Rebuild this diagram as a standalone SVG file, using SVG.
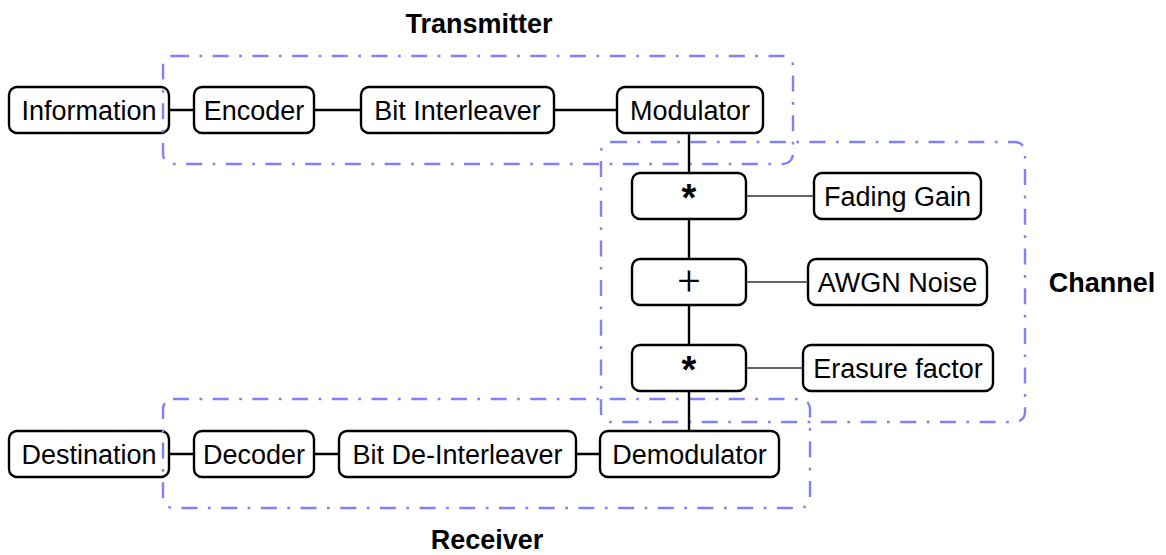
<svg xmlns="http://www.w3.org/2000/svg" width="1166" height="555" viewBox="0 0 1166 555">
<style>
.node rect{fill:#fff;stroke:#000;stroke-width:2.4}
.node text{font-family:"Liberation Sans",Arial,sans-serif;font-size:27px;text-anchor:middle;fill:#000}
.group{fill:none;stroke:#8080ff;stroke-width:2.4;stroke-dasharray:16 10.5 2.7 10.5}
.lbl{font-family:"Liberation Sans",Arial,sans-serif;font-size:27px;font-weight:bold;text-anchor:middle;fill:#000}
.main{stroke:#000;stroke-width:2.4;fill:none}
.side{stroke:#333;stroke-width:1.3;fill:none}
.node text.star{font-family:"Liberation Sans",Arial,sans-serif;font-size:38px;font-weight:bold}
.node text.plus{font-family:Roboto,"Liberation Sans",sans-serif;font-size:40px;font-weight:300}
</style>
<rect width="1166" height="555" fill="#fff"/>
<g id="information" class="node"><rect x="9" y="87" width="160" height="46" rx="8"/><text x="89" y="120">Information</text></g>
<g id="encoder" class="node"><rect x="194" y="87" width="120" height="46" rx="8"/><text x="254" y="120">Encoder</text></g>
<g id="bit-interleaver" class="node"><rect x="361" y="87" width="193" height="46" rx="8"/><text x="457.5" y="120">Bit Interleaver</text></g>
<g id="modulator" class="node"><rect x="617" y="87" width="146" height="46" rx="8"/><text x="690" y="120">Modulator</text></g>
<g id="mult1" class="node"><rect x="632" y="173" width="114" height="46" rx="8"/><text class="star" x="689" y="210.5">*</text></g>
<g id="fading-gain" class="node"><rect x="814" y="173" width="167" height="46" rx="8"/><text x="897.5" y="206">Fading Gain</text></g>
<g id="add" class="node"><rect x="632" y="259" width="114" height="46" rx="8"/><text class="plus" x="689" y="295">+</text></g>
<g id="awgn-noise" class="node"><rect x="808" y="259" width="179" height="46" rx="8"/><text x="897.5" y="292">AWGN Noise</text></g>
<g id="mult2" class="node"><rect x="632" y="345" width="114" height="46" rx="8"/><text class="star" x="689" y="382.5">*</text></g>
<g id="erasure-factor" class="node"><rect x="803" y="345" width="190" height="46" rx="8"/><text x="898" y="378">Erasure factor</text></g>
<g id="destination" class="node"><rect x="9" y="431" width="160" height="46" rx="8"/><text x="89" y="464">Destination</text></g>
<g id="decoder" class="node"><rect x="194" y="431" width="120" height="46" rx="8"/><text x="254" y="464">Decoder</text></g>
<g id="bit-deinterleaver" class="node"><rect x="339" y="431" width="237" height="46" rx="8"/><text x="457.5" y="464">Bit De-Interleaver</text></g>
<g id="demodulator" class="node"><rect x="600" y="431" width="179" height="46" rx="8"/><text x="689.5" y="464">Demodulator</text></g>
<g id="transmitter"><rect class="group" x="163" y="56" width="630" height="108" rx="10"/><text class="lbl" x="479" y="33">Transmitter</text></g>
<g id="channel"><rect class="group" x="601" y="142" width="424" height="280" rx="10"/><text class="lbl" x="1102" y="292">Channel</text></g>
<g id="receiver"><rect class="group" x="163" y="399" width="647" height="109" rx="10"/><text class="lbl" x="487" y="549">Receiver</text></g>
<g id="connectors">
<path class="main" d="M169 110H194M314 110H361M554 110H617M169 454H194M314 454H339M576 454H600"/>
<path class="main" d="M689 133V173M689 219V259M689 305V345M689 391V431"/>
<path class="side" d="M746 196H814M746 282H808M746 368H803"/>
</g>
</svg>
